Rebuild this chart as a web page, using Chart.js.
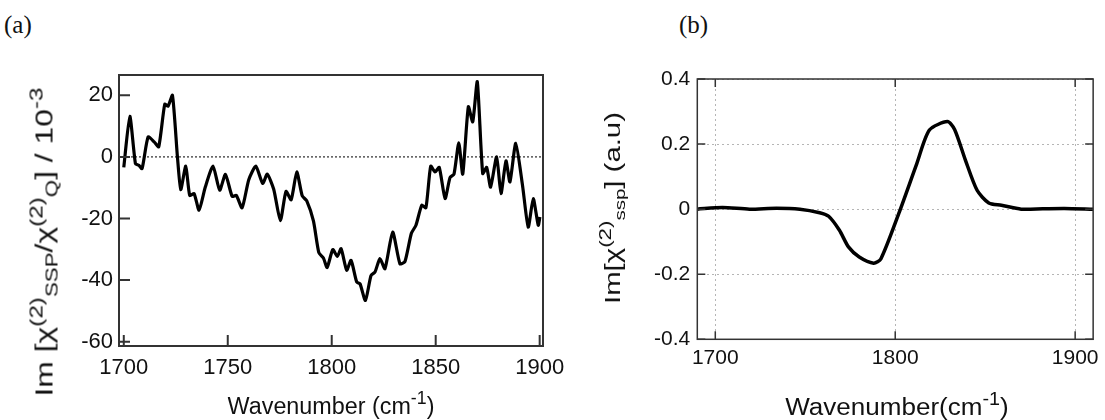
<!DOCTYPE html>
<html lang="en">
<head>
  <meta charset="UTF-8" />
  <title>Im chi(2) spectra</title>
  <script src="https://cdn.jsdelivr.net/npm/chart.js"></script>
  <style>
    body { margin: 0; background: #fff; }
    #wrap { position: relative; width: 1105px; height: 420px; overflow: hidden;
            font-family: "Liberation Sans", Arial, sans-serif; color: #111; }
    canvas { position: absolute; top: 0; }
    .panel { position: absolute; font-family: "Liberation Serif", "Times New Roman", serif; font-size: 25px; }
    .title { position: absolute; white-space: nowrap; line-height: 1; }
    .title sup { font-size: 0.76em; vertical-align: 0.55em; line-height: 0; }
    .title sub { font-size: 0.7em; vertical-align: -0.3em; line-height: 0; }
  </style>
</head>
<body>
  <div id="wrap">
    <div class="panel" style="left:4px; top:11px;">(a)</div>
    <div class="panel" style="left:679px; top:11px;">(b)</div>
    <canvas id="chartA" width="580" height="420" style="left:0"></canvas>
    <canvas id="chartB" width="535" height="420" style="left:570px"></canvas>

    <div class="title" id="ytA" data-len="309" data-rot="1" style="left:45px; top:242px; font-size:23px;">Im [χ<sup>(2)</sup><sub>SSP</sub>/χ<sup>(2)</sup><sub>Q</sub>] / 10<sup>-3</sup></div>
    <div class="title" id="xtA" data-len="207" style="left:331px; top:406px; font-size:23px;">Wavenumber (cm<sup>-1</sup>)</div>

    <div class="title" id="ytB" data-len="192" data-rot="1" style="left:613px; top:208px; font-size:22px;">Im[χ<sup>(2)</sup><sub>ssp</sub>] (a.u)</div>
    <div class="title" id="xtB" data-len="223" style="left:897px; top:407px; font-size:23px;">Wavenumber(cm<sup>-1</sup>)</div>
  </div>

  <script>
    // panel (a): Im[chi_SSP / chi_Q] x 10^-3
    const waveA = [1700.0, 1702.9, 1705.6, 1707.2, 1708.8, 1711.7, 1714.6, 1716.8, 1719.7, 1721.3,
      1723.4, 1725.8, 1727.4, 1729.8, 1731.7, 1733.8, 1736.2, 1739.2, 1742.9, 1746.1,
      1748.9, 1752.1, 1754.1, 1756.9, 1760.1, 1763.5, 1766.8, 1769.0, 1772.1, 1775.3,
      1778.0, 1780.5, 1783.2, 1785.8, 1788.0, 1791.2, 1793.8, 1796.0, 1797.8, 1800.5,
      1802.7, 1804.5, 1807.2, 1809.3, 1812.0, 1813.6, 1816.2, 1818.9, 1820.8, 1823.2,
      1825.6, 1829.3, 1832.8, 1835.2, 1838.3, 1840.5, 1843.3, 1845.3, 1847.6, 1849.7,
      1851.7, 1854.5, 1856.9, 1858.8, 1861.1, 1863.0, 1865.7, 1867.8, 1870.0, 1872.6,
      1874.5, 1876.4, 1879.3, 1881.4, 1883.8, 1885.7, 1888.5, 1891.8, 1894.5, 1896.9,
      1899.3, 1900.1];
    const imA = [-3.4, 13.2, -2.2, -2.7, -3.8, 6.5, 4.9, 3.3, 17.1, 16.5,
      20.0, 0, -10.6, -3.0, -12.5, -11.9, -17.3, -9.8, -3.0, -10.8,
      -5.7, -12.8, -12.5, -16.5, -7.4, -3.0, -8.6, -5.6, -10.5, -20.7,
      -11.2, -13.9, -4.9, -12.6, -14.3, -20.8, -31.1, -32.8, -35.9, -30.1,
      -32.3, -29.8, -36.8, -33.6, -40.6, -41.2, -46.6, -38.5, -37.4, -33.0,
      -36.3, -24.4, -34.7, -34.0, -24.8, -22.2, -15.7, -16.5, -3.0, -4.9,
      -3.4, -13.5, -6.7, -5.6, 4.6, -5.6, 16.3, 11.4, 24.4, -5.4,
      -3.4, -9.8, 0, -11.9, -1.3, -8.1, 4.4, -9.5, -22.8, -13.5,
      -22.2, -19.5];
    const xTicksA = [1700, 1750, 1800, 1850, 1900];
    const yTicksA = [-60, -40, -20, 0, 20];

    // panel (b): Im[chi_ssp] (a.u)
    const waveB = [1690, 1704, 1719, 1734, 1747, 1758, 1763, 1769, 1774, 1780,
      1788, 1792, 1802, 1812, 1819, 1829, 1833, 1839, 1845.5, 1852,
      1859, 1870, 1882, 1894, 1910];
    const imB = [0, 0.005, 0, 0.003, 0, -0.011, -0.022, -0.065, -0.116, -0.147,
      -0.166, -0.153, -0.013, 0.14, 0.243, 0.269, 0.245, 0.151, 0.058, 0.019,
      0.012, 0, 0.001, 0.002, 0];
    const xTicksB = [1700, 1800, 1900];
    const yTicksB = [-0.4, -0.2, 0, 0.2, 0.4];

    const FONT = "'Liberation Sans', Arial, sans-serif";

    // stretch each axis title to the length it has in the figure
    document.querySelectorAll('.title').forEach(el => {
      const k = el.dataset.len / el.offsetWidth;
      el.style.transform = 'translate(-50%,-50%)' + (el.dataset.rot ? ' rotate(-90deg)' : '') + ` scaleX(${k})`;
    });

    // frame + ticks pointing into the plot
    const innerTicks = {
      id: 'innerTicks',
      afterDraw(chart, args, o) {
        const { ctx, chartArea: a, scales: { x, y } } = chart;
        ctx.save();
        ctx.strokeStyle = o.color;
        ctx.lineWidth = o.width;
        ctx.strokeRect(a.left, a.top, a.right - a.left, a.bottom - a.top);
        ctx.beginPath();
        x.ticks.forEach(t => {
          const px = x.getPixelForValue(t.value);
          ctx.moveTo(px, a.bottom); ctx.lineTo(px, a.bottom - o.len);
          if (o.mirror) { ctx.moveTo(px, a.top); ctx.lineTo(px, a.top + o.len); }
        });
        y.ticks.forEach(t => {
          const py = y.getPixelForValue(t.value);
          ctx.moveTo(a.left, py); ctx.lineTo(a.left + o.len, py);
          if (o.mirror) { ctx.moveTo(a.right, py); ctx.lineTo(a.right - o.len, py); }
        });
        ctx.stroke();
        ctx.restore();
      }
    };

    // dotted zero line of panel (a)
    const zeroLine = {
      id: 'zeroLine',
      beforeDatasetsDraw(chart) {
        const { ctx, chartArea: a, scales: { y } } = chart;
        const py = y.getPixelForValue(0);
        ctx.save();
        ctx.strokeStyle = '#000';
        ctx.lineWidth = 1;
        ctx.setLineDash([2, 2]);
        ctx.beginPath();
        ctx.moveTo(a.left, py); ctx.lineTo(a.right, py);
        ctx.stroke();
        ctx.restore();
      }
    };

    function makeChart(id, xs, ys, o) {
      return new Chart(document.getElementById(id), {
        type: 'line',
        data: {
          datasets: [{
            data: xs.map((v, i) => ({ x: v, y: ys[i] })),
            borderColor: '#000',
            borderWidth: o.lineWidth,
            pointRadius: 0,
            tension: o.tension,
            fill: false
          }]
        },
        options: {
          responsive: false,
          animation: false,
          devicePixelRatio: 1,
          layout: { padding: o.padding },
          plugins: {
            legend: { display: false },
            tooltip: { enabled: false },
            innerTicks: o.frame
          },
          scales: {
            x: {
              type: 'linear',
              min: o.xMin, max: o.xMax,
              afterBuildTicks: s => { s.ticks = o.xTicks.map(v => ({ value: v })); },
              afterFit: s => { s.height = o.xHeight; },
              grid: o.grid ? { ...o.grid } : { display: false, drawTicks: false },
              border: o.grid ? { display: false, dash: [2, 3] } : { display: false },
              ticks: { color: '#111', padding: o.xPad, maxRotation: 0, font: { family: FONT, size: o.fontSize },
                       callback: v => String(v) }
            },
            y: {
              min: o.yMin, max: o.yMax,
              afterBuildTicks: s => { s.ticks = o.yTicks.map(v => ({ value: v })); },
              afterFit: s => { s.width = o.yWidth; },
              grid: o.grid ? { ...o.grid } : { display: false, drawTicks: false },
              border: o.grid ? { display: false, dash: [2, 3] } : { display: false },
              ticks: { color: '#111', padding: o.yPad, font: { family: FONT, size: o.fontSize },
                       callback: v => String(Math.round(v * 10) / 10) }
            }
          }
        },
        plugins: o.extra
      });
    }

    makeChart('chartA', waveA, imA, {
      lineWidth: 3.2, tension: 0.2,
      padding: { left: 0, top: 75, right: 37, bottom: 0 },
      xMin: 1697.7, xMax: 1901.6, xTicks: xTicksA, xHeight: 74, xPad: 9,
      yMin: -61.4, yMax: 26.6, yTicks: yTicksA, yWidth: 119, yPad: 6,
      fontSize: 22,
      frame: { color: '#333', width: 2, len: 11, mirror: false },
      extra: [zeroLine, innerTicks]
    });

    makeChart('chartB', waveB, imB, {
      lineWidth: 3.5, tension: 0.25,
      padding: { left: 0, top: 79, right: 10.7, bottom: 0 },
      xMin: 1690, xMax: 1910, xTicks: xTicksB, xHeight: 80.7, xPad: 6,
      yMin: -0.4, yMax: 0.4, yTicks: yTicksB, yWidth: 127.3, yPad: 7,
      fontSize: 21,
      grid: { color: '#b5b5b5', lineWidth: 1, drawTicks: false, borderDash: [2, 3] },
      frame: { color: '#333', width: 1.5, len: 8, mirror: true },
      extra: [innerTicks]
    });
  </script>
</body>
</html>
